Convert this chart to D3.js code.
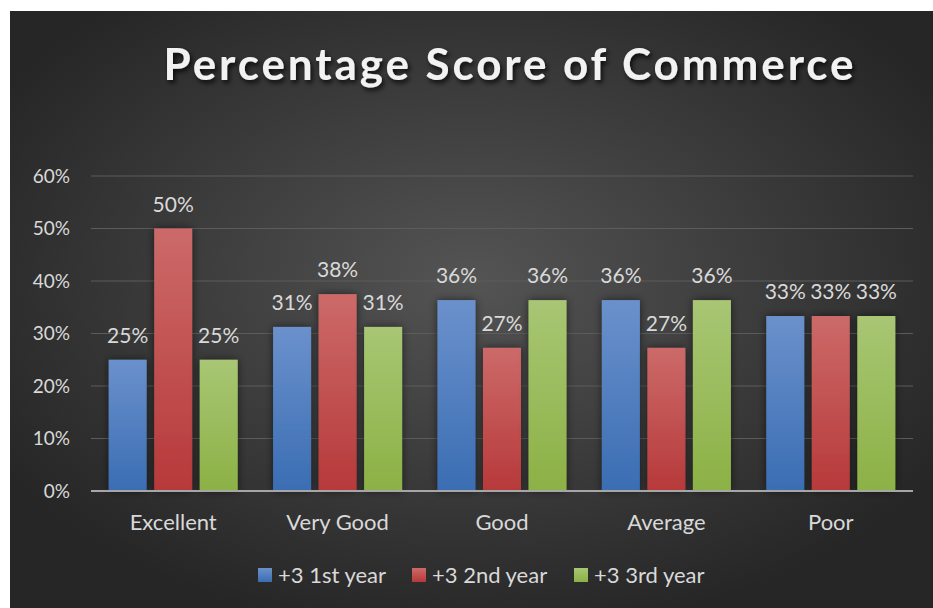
<!DOCTYPE html>
<html>
<head>
<meta charset="utf-8">
<script src="https://cdn.jsdelivr.net/npm/d3@7"></script>
<style>
  body { margin: 0; background: #fff; }
  svg { display: block; font-family: Lato, "Open Sans", sans-serif; }
</style>
</head>
<body>
<svg width="933" height="608"></svg>
<script>
var categories = ["Excellent", "Very Good", "Good", "Average", "Poor"];
var seriesNames = ["+3 1st year", "+3 2nd year", "+3 3rd year"];
var firstYear = [0.25, 0.3125, 0.3636, 0.3636, 0.3333];
var secondYear = [0.50, 0.375, 0.2727, 0.2727, 0.3333];
var thirdYear = [0.25, 0.3125, 0.3636, 0.3636, 0.3333];
var yTicks = [0, 0.1, 0.2, 0.3, 0.4, 0.5, 0.6];

var seriesValues = [firstYear, secondYear, thirdYear];
var colors = [
    {top: "#6b91cc", bottom: "#3a6db3"},
    {top: "#cc6a69", bottom: "#b7393a"},
    {top: "#a8c674", bottom: "#8cb145"}
];

var svg = d3.select("svg"),
    margin = {top: 176, right: 20, bottom: 117, left: 91},
    width = 913 - margin.left,
    height = 491 - margin.top;

var defs = svg.append("defs");

var bg = defs.append("radialGradient")
    .attr("id", "bg")
    .attr("cx", "50%").attr("cy", "45%").attr("r", "60%");
bg.append("stop").attr("offset", "0%").attr("stop-color", "#545454");
bg.append("stop").attr("offset", "100%").attr("stop-color", "#262626");

colors.forEach(function(c, i) {
    var g = defs.append("linearGradient")
        .attr("id", "bar" + i)
        .attr("x1", 0).attr("y1", 0).attr("x2", 0).attr("y2", 1);
    g.append("stop").attr("offset", "0%").attr("stop-color", c.top);
    g.append("stop").attr("offset", "100%").attr("stop-color", c.bottom);
});

var shadow = defs.append("filter").attr("id", "shadow")
    .attr("x", "-30%").attr("y", "-10%").attr("width", "160%").attr("height", "120%");
shadow.append("feDropShadow")
    .attr("dx", 0).attr("dy", 0).attr("stdDeviation", 4)
    .attr("flood-color", "#000").attr("flood-opacity", 0.55);

var titleShadow = defs.append("filter").attr("id", "tshadow")
    .attr("x", "-10%").attr("y", "-30%").attr("width", "120%").attr("height", "160%");
titleShadow.append("feDropShadow")
    .attr("dx", 2).attr("dy", 3).attr("stdDeviation", 2.5)
    .attr("flood-color", "#000").attr("flood-opacity", 0.8);

svg.append("rect")
    .attr("x", 10).attr("y", 11)
    .attr("width", 923).attr("height", 597)
    .attr("fill", "url(#bg)");

svg.append("text")
    .attr("x", 510)
    .attr("y", 80)
    .attr("text-anchor", "middle")
    .attr("fill", "#f2f2f2")
    .attr("font-size", 44)
    .attr("font-weight", "bold")
    .attr("letter-spacing", 2.9)
    .attr("filter", "url(#tshadow)")
    .text("Percentage Score of Commerce");

var g = svg.append("g").attr("transform", "translate(" + margin.left + "," + margin.top + ")");

var x0 = d3.scaleBand()
    .domain(categories)
    .range([0, width])
    .paddingInner(0.215)
    .paddingOuter(0.1075);

var x1 = d3.scaleBand()
    .domain(d3.range(seriesNames.length))
    .range([0, x0.bandwidth()])
    .paddingInner(0.165);

var y = d3.scaleLinear()
    .domain([0, 0.6])
    .range([height, 0]);

// gridlines
g.append("g")
    .selectAll("line")
    .data(yTicks.slice(1))
    .enter().append("line")
    .attr("x1", 0).attr("x2", width)
    .attr("y1", function(d) { return y(d); })
    .attr("y2", function(d) { return y(d); })
    .attr("stroke", "#5c5c5c")
    .attr("stroke-width", 1);

var yAxis = d3.axisLeft(y)
    .tickValues(yTicks)
    .tickFormat(d3.format(".0%"))
    .tickSize(0)
    .tickPadding(21);

g.append("g")
    .call(yAxis)
    .call(function(s) { s.select(".domain").remove(); })
    .selectAll("text")
    .attr("fill", "#d9d9d9")
    .attr("font-size", 19)
    .attr("font-family", "Lato, sans-serif");

var groups = g.selectAll(".group")
    .data(categories)
    .enter().append("g")
    .attr("transform", function(d) { return "translate(" + x0(d) + ",0)"; });

groups.selectAll("rect")
    .data(function(d, ci) { return seriesValues.map(function(vals, si) { return {s: si, v: vals[ci]}; }); })
    .enter().append("rect")
    .attr("x", function(d) { return x1(d.s); })
    .attr("y", function(d) { return y(d.v); })
    .attr("width", x1.bandwidth())
    .attr("height", function(d) { return height - y(d.v); })
    .attr("fill", function(d) { return "url(#bar" + d.s + ")"; })
    .attr("filter", "url(#shadow)");

groups.selectAll(".lbl")
    .data(function(d, ci) { return seriesValues.map(function(vals, si) { return {s: si, v: vals[ci]}; }); })
    .enter().append("text")
    .attr("x", function(d) { return x1(d.s) + x1.bandwidth() / 2; })
    .attr("y", function(d) { return y(d.v) - 17; })
    .attr("text-anchor", "middle")
    .attr("fill", "#d9d9d9")
    .attr("font-size", 21)
    .text(function(d) { return d3.format(".0%")(d.v); });

// baseline
g.append("line")
    .attr("x1", 0).attr("x2", width)
    .attr("y1", height).attr("y2", height)
    .attr("stroke", "#a6a6a6")
    .attr("stroke-width", 2);

var xAxis = d3.axisBottom(x0).tickSize(0).tickPadding(23);
g.append("g")
    .attr("transform", "translate(0," + height + ")")
    .call(xAxis)
    .call(function(s) { s.select(".domain").remove(); })
    .selectAll("text")
    .attr("fill", "#d9d9d9")
    .attr("font-size", 22)
    .attr("font-family", "Lato, sans-serif");

// legend
var legendX = [258, 412, 574];
var legend = svg.append("g")
    .selectAll("g")
    .data(seriesNames)
    .enter().append("g")
    .attr("transform", function(d, i) { return "translate(" + legendX[i] + ",568)"; });

legend.append("rect")
    .attr("width", 14).attr("height", 14)
    .attr("fill", function(d, i) { return "url(#bar" + i + ")"; });

legend.append("text")
    .attr("x", 20)
    .attr("y", 15)
    .attr("fill", "#d9d9d9")
    .attr("font-size", 22)
    .text(function(d) { return d; });
</script>
</body>
</html>
